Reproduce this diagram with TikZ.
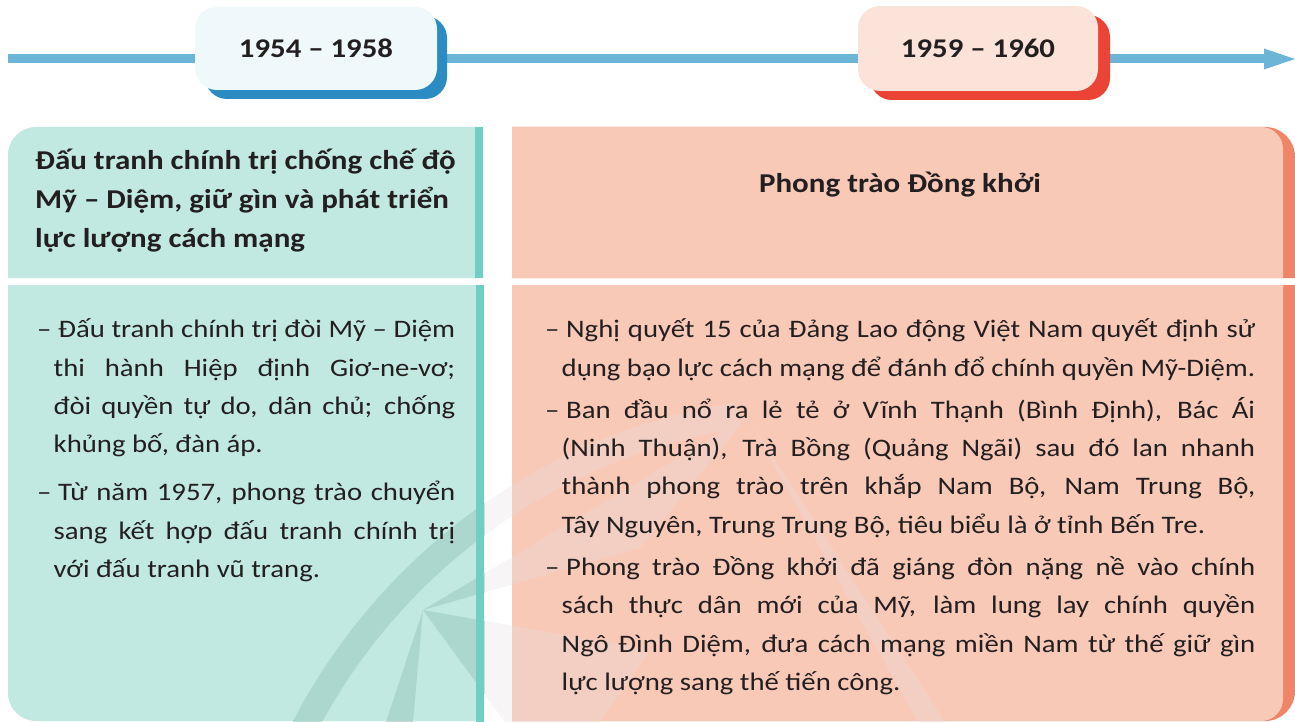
\documentclass[tikz,border=0pt]{standalone}
\usepackage{fontspec}
\setmainfont{Carlito}[FakeStretch=1.14]
\usetikzlibrary{shadows}
\definecolor{txt}{HTML}{231F20}
\definecolor{tlcol}{HTML}{6CB5D7}
\definecolor{tealfill}{HTML}{C2E9E1}
\definecolor{tealstrip}{HTML}{70CEC3}
\definecolor{pinkfill}{HTML}{F9C9B8}
\definecolor{pinkstrip}{HTML}{F08468}
\definecolor{bAfill}{HTML}{EFF8FA}
\definecolor{bAsh}{HTML}{2B8CC4}
\definecolor{bBfill}{HTML}{FCE3D9}
\definecolor{bBsh}{HTML}{EB4336}
\definecolor{wmL}{HTML}{9CCBC2}
\definecolor{wmR}{HTML}{E4DEDC}
\newcommand\HeadFnt{\bfseries\fontsize{27.2}{39}\selectfont}
\newcommand\BodyFnt{\fontsize{25.2}{38.3}\selectfont}
\newcommand\BodySet[1]{\BodyFnt\spaceskip=\fontdimen2\font plus 1em minus 0.1em\relax\setlength{\parindent}{0pt}\setlength{\parskip}{#1}\tolerance=10000 \hyphenpenalty=10000 \exhyphenpenalty=10000 }
\newcommand\DashItem{\par\hangindent=16.5pt\hangafter=1\noindent\makebox[21pt][l]{–}}
\newcommand\WMShapes[2]{%
  \begin{scope}[transparency group, opacity=#2]
    \draw[#1, line width=26] (830,1000) ++(-160:592) arc[start angle=-160,end angle=-99,radius=592];
    \fill[#1] (423,610) -- (747,417) -- (640,548) -- cycle;
    \fill[#1] (423,610) -- (650,650) -- (600,722) -- (505,722) -- cycle;
    \fill[#1] (423,610) -- (386,722) -- (413,722) -- cycle;
    \fill[#1] (747,417) -- (945,722) -- (918,722) -- cycle;
  \end{scope}}
\tikzset{
  badge/.style={rounded corners=22, minimum width=242, minimum height=83, inner sep=0,
    font=\bfseries\fontsize{27}{30}\selectfont, text=txt},
  plain/.style={inner sep=0, text=txt}
}
\begin{document}
\begin{tikzpicture}[x=1pt,y=-1pt]
\useasboundingbox (0,0) rectangle (1295,722);
\fill[white] (0,0) rectangle (1295,722);
% timeline
\coordinate (tlA) at (8,59);
\coordinate (tlB) at (1268,59);
\coordinate (tlTip) at (1295,59);
\draw[line width=9, tlcol] (tlA) -- (tlB);
\fill[tlcol] (1264,48.5) -- (tlTip) -- (1264,69.5) -- cycle;
% badges
\node[badge, fill=bAfill, drop shadow={shadow xshift=10pt, shadow yshift=-9pt, fill=bAsh, opacity=1}] (bA) at (316,48.5) {\raisebox{-2pt}{1954 – 1958}};
\node[badge, fill=bBfill, minimum width=240, minimum height=85, drop shadow={shadow xshift=12pt, shadow yshift=-9pt, fill=bBsh, opacity=1}] (bB) at (978,48.5) {\raisebox{-2pt}{1959 – 1960}};
% left panels
\fill[tealfill] (8,278) -- (8,155) arc[start angle=180,end angle=270,radius=28] -- (483,127) -- (483,278) -- cycle;
\fill[tealfill] (484,285) -- (8,285) -- (8,693) arc[start angle=180,end angle=90,radius=28] -- (484,721) -- cycle;
% right panels
\fill[pinkstrip] (512,278) -- (512,127) -- (1265,127) arc[start angle=270,end angle=360,radius=30] -- (1295,278) -- cycle;
\fill[pinkfill] (512,278) -- (512,127) -- (1261,127) arc[start angle=270,end angle=360,radius=22] -- (1283,278) -- cycle;
\fill[pinkstrip] (512,285) -- (1295,285) -- (1295,691) arc[start angle=0,end angle=90,radius=30] -- (512,721) -- cycle;
\fill[pinkfill] (512,285) -- (1283,285) -- (1283,699) arc[start angle=0,end angle=90,radius=22] -- (512,721) -- cycle;
% watermark
\begin{scope}
  \clip (0,0) rectangle (484,722);
  \WMShapes{wmL}{0.6}
\end{scope}
\begin{scope}
  \clip (484,0) rectangle (1283,722);
  \WMShapes{wmR}{0.28}
\end{scope}
% teal strips
\fill[tealstrip] (475,127) rectangle (483,278);
\fill[tealstrip] (476,285) rectangle (484,722);
% headers
\node[plain, anchor=base west] (lhead) at (35,170) {\begin{minipage}[t]{445pt}\HeadFnt\raggedright
Đấu tranh chính trị chống chế độ\\
Mỹ – Diệm, giữ gìn và phát triển\\
lực lượng cách mạng\end{minipage}};
\node[plain, anchor=base, font=\HeadFnt] (rhead) at (900,193) {Phong trào Đồng khởi};
% bodies
\node[plain, anchor=base west] (lbody) at (37,337.7) {\begin{minipage}[t]{418pt}\BodySet{10pt}%
\DashItem Đấu tranh chính trị đòi Mỹ – Diệm\linebreak thi hành Hiệp định Giơ-ne-vơ;\linebreak đòi quyền tự do, dân chủ; chống\linebreak khủng bố, đàn áp.\par
\DashItem Từ năm 1957, phong trào chuyển\linebreak sang kết hợp đấu tranh chính trị\linebreak với đấu tranh vũ trang.\par
\end{minipage}};
\node[plain, anchor=base west] (rbody) at (545,337.7) {\begin{minipage}[t]{710pt}\BodySet{4pt}%
\DashItem Nghị quyết 15 của Đảng Lao động Việt Nam quyết định sử\linebreak dụng bạo lực cách mạng để đánh đổ chính quyền Mỹ-Diệm.\par
\DashItem Ban đầu nổ ra lẻ tẻ ở Vĩnh Thạnh (Bình Định), Bác Ái\linebreak (Ninh Thuận), Trà Bồng (Quảng Ngãi) sau đó lan nhanh\linebreak thành phong trào trên khắp Nam Bộ, Nam Trung Bộ,\linebreak Tây Nguyên, Trung Trung Bộ, tiêu biểu là ở tỉnh Bến Tre.\par
\DashItem Phong trào Đồng khởi đã giáng đòn nặng nề vào chính\linebreak sách thực dân mới của Mỹ, làm lung lay chính quyền\linebreak Ngô Đình Diệm, đưa cách mạng miền Nam từ thế giữ gìn\linebreak lực lượng sang thế tiến công.\par
\end{minipage}};
\end{tikzpicture}
\end{document}
